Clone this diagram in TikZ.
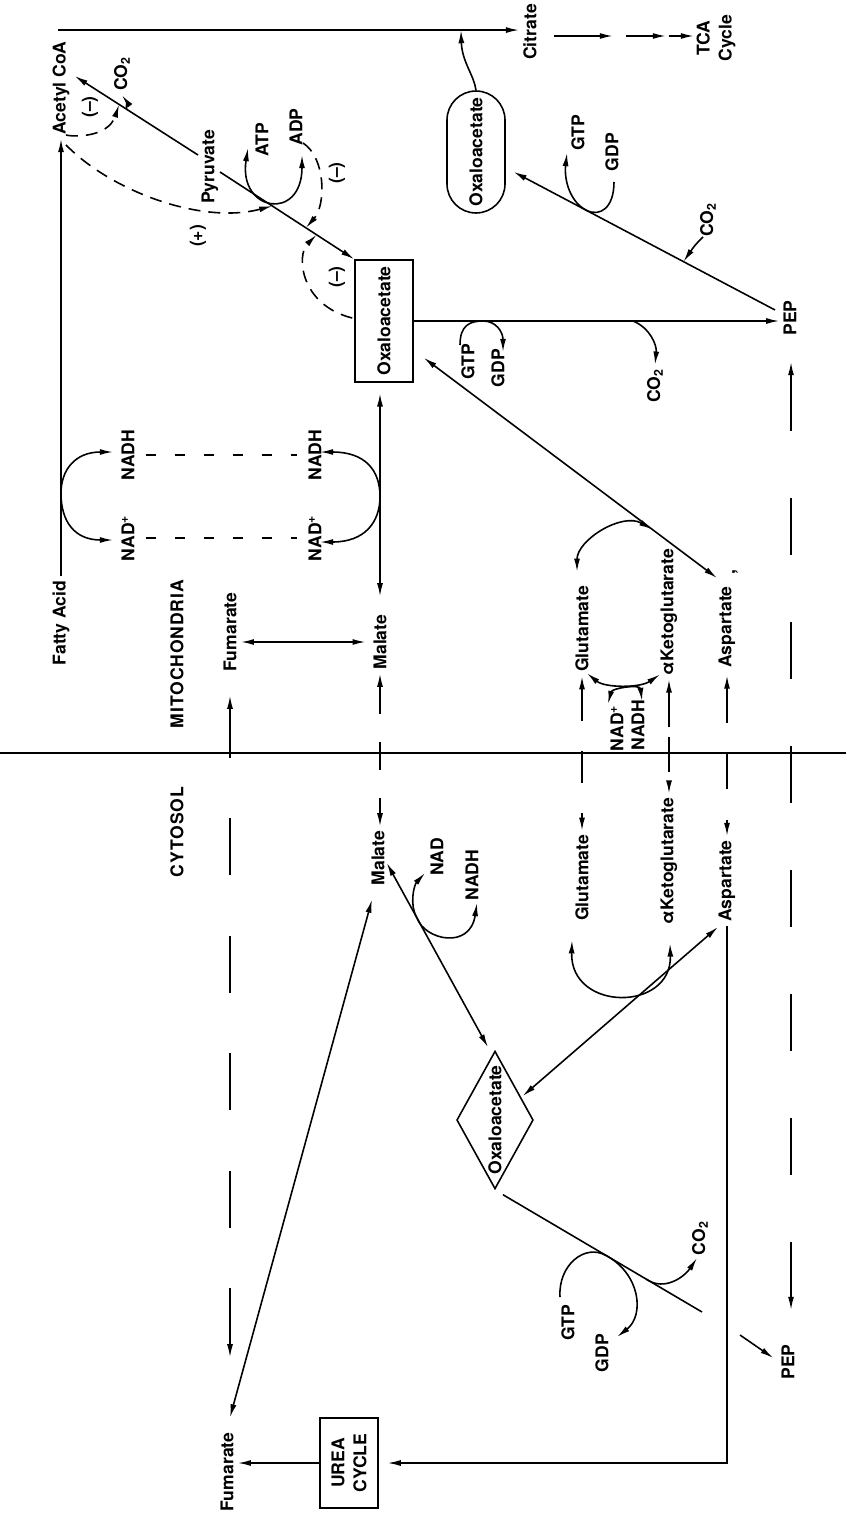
\documentclass[tikz,border=0pt]{standalone}
\usepackage{fontspec}
\setmainfont{TeX Gyre Heros}
\usetikzlibrary{arrows.meta, shapes.geometric}

\begin{document}
\begin{tikzpicture}[x=0.02cm, y=-0.02cm, line width=0.9pt,
      lbl/.style={rotate=90, inner sep=2pt, font=\bfseries\fontsize{10}{12.5}\selectfont},
      pool/.style={lbl, draw, minimum width=2.44cm, minimum height=1.16cm},
      arr/.style={-{Latex[length=7.5pt, width=3.4pt]}},
      arrb/.style={{Latex[length=7.5pt, width=3.4pt]}-{Latex[length=7.5pt, width=3.4pt]}},
      inh/.style={arr, dash pattern=on 0.24cm off 0.16cm},
      shuttle/.style={dash pattern=on 0.2cm off 0.38cm},
      xport/.style={arrb, dash pattern=on 1.14cm off 1.34cm}
    ]
      \useasboundingbox (0,0) rectangle (846,1514);

      % mitochondria
      \node[lbl] (acoa)    at (61,88)   {Acetyl CoA};
      \node[lbl] (fa)      at (61,623)  {Fatty Acid};
      \node[lbl] (citrate) at (530,32)  {Citrate};
      \node[lbl, align=center] (tca) at (716,38) {TCA\\Cycle};
      \node[lbl] (co2a)    at (122,74)  {CO\textsubscript{2}};
      \node[lbl] (inh1)    at (90,107)  {(--)};
      \node[lbl] (pyr)     at (210,167) {Pyruvate};
      \node[lbl] (act)     at (198,236) {(+)};
      \node[lbl] (atp)     at (262,140) {ATP};
      \node[lbl] (adp)     at (296,127) {ADP};
      \node[lbl] (inh2)    at (337,173) {(--)};
      \node[lbl] (inh3)    at (337,277) {(--)};
      \node[pool] (oaam)   at (384,321) {Oxaloacetate};
      \node[pool, rounded corners=0.58cm] (oaap) at (476,152) {Oxaloacetate};
      \node[lbl] (gtp1)    at (578,133) {GTP};
      \node[lbl] (gdp1)    at (612,152) {GDP};
      \node[lbl] (co2b)    at (708,220) {CO\textsubscript{2}};
      \node[lbl] (pepm)    at (790,318) {PEP};
      \node[lbl] (gtp2)    at (468,362) {GTP};
      \node[lbl] (gdp2)    at (498,368) {GDP};
      \node[lbl] (co2c)    at (655,386) {CO\textsubscript{2}};
      \node[lbl] (nadh1)   at (128,455) {NADH};
      \node[lbl] (nad1)    at (128,538) {NAD\textsuperscript{+}};
      \node[lbl] (nadh2)   at (315,455) {NADH};
      \node[lbl] (nad2)    at (315,538) {NAD\textsuperscript{+}};
      \node[lbl, font=\bfseries\fontsize{10}{12}\selectfont\addfontfeature{LetterSpace=5}] (mito) at (177,654) {MITOCHONDRIA};
      \node[lbl] (fumm)    at (230,632) {Fumarate};
      \node[lbl] (malm)    at (380,642) {Malate};
      \node[lbl] (glum)    at (582,629) {Glutamate};
      \node[lbl] (akgm)    at (669,612) {αKetoglutarate};
      \node[lbl] (aspm)    at (727,627) {Aspartate};
      \node[lbl] (spot)    at (735,572) {,};
      \node[lbl] (nad3)    at (617,728) {NAD\textsuperscript{+}};
      \node[lbl] (nadh3)   at (638,725) {NADH};

      % cytosol
      \node[lbl, font=\bfseries\fontsize{10}{12}\selectfont\addfontfeature{LetterSpace=5}] (cyto) at (177,832) {CYTOSOL};
      \node[lbl] (malc)    at (378,858) {Malate};
      \node[lbl] (nad4)    at (437,857) {NAD};
      \node[lbl] (nadh4)   at (472,875) {NADH};
      \node[lbl] (gluc)    at (582,878) {Glutamate};
      \node[lbl] (akgc)    at (669,861) {αKetoglutarate};
      \node[lbl] (aspc)    at (727,881) {Aspartate};
      \node[lbl, draw, diamond, shape aspect=1.8, inner sep=0.5pt] (oaac) at (495,1120) {Oxaloacetate};
      \node[lbl] (co2d)    at (700,1238) {CO\textsubscript{2}};
      \node[lbl] (gtp3)    at (568,1323) {GTP};
      \node[lbl] (gdp3)    at (602,1353) {GDP};
      \node[lbl] (pepc)    at (788,1362) {PEP};
      \node[lbl] (fumc)    at (227,1472) {Fumarate};
      \node[pool, align=center, minimum width=1.8cm] (urea) at (349,1463) {UREA\\CYCLE};

      % membrane
      \draw (0,753) -- (846,753);

      % acetyl CoA to citrate and TCA cycle
      \draw[arr] (fa) -- coordinate[pos=0.19] (bo) (acoa);
      \coordinate (ctop) at ([shift={(-3,-7)}]acoa.east);
      \draw[arr] (ctop) -- coordinate[pos=0.874] (cs) (ctop -| citrate.north);
      \draw[arr] ([shift={(13,4)}]citrate.south) -- ++(59,0);
      \draw[arr] ([shift={(85,4)}]citrate.south) -- ++(40,0);
      \draw[arr] ([shift={(128,4)}]citrate.south) -- ++(25,0);

      % pyruvate branch point
      \draw[arr] ([shift={(-12,-12)}]pyr.center) -- coordinate[pos=0.58] (pdh) coordinate[pos=0.64] (pdhin) ([shift={(1,-12)}]acoa.south);
      \draw[arr] ([shift={(10,5)}]pyr.center) -- coordinate[pos=0.34] (pc) coordinate[pos=0.39] (pcact) coordinate[pos=0.64] (pcin) coordinate[pos=0.72] (pcin2) (oaam.north east);
      \draw[arr] (pdh) .. controls ([shift={(0,-8)}]pdh) .. (co2a.west);
      \draw[inh] ([shift={(5,-4)}]acoa.west) .. controls (72,137) and (108,138) .. (pdhin);
      \draw[inh] ([shift={(5,6)}]acoa.west) .. controls (110,190) and (200,225) .. (pcact);
      \draw[arrb] ([shift={(-14,8)}]atp.center) .. controls (238,212) and (302,222) .. ([shift={(6,28)}]adp.center);
      \draw[inh] ([shift={(7,16)}]adp.center) .. controls (326,158) and (326,205) .. (pcin);
      \draw[inh] ([shift={(-2,-3)}]oaam.north) .. controls (300,305) and (296,255) .. (pcin2);

      % PEP carboxykinase
      \draw[arr] (oaam.south) -- coordinate[pos=0.19] (gk1) coordinate[pos=0.6] (dc1) (oaam.south -| pepm.north);
      \draw[arr] ([shift={(-8,-17)}]gtp2.center) .. controls (460,325) and (470,321) .. (gk1) .. controls (496,321) and (503,332) .. ([shift={(5,-16)}]gdp2.center);
      \draw[arr] (dc1) .. controls (650,328) and (657,345) .. (co2c.east);
      \draw[arr, shorten >=5pt] ([shift={(-15,-8)}]pepm.center) -- coordinate[pos=0.34] (cx2) coordinate[pos=0.70] (gk2) (oaap);
      \draw[arr] ([shift={(2,30)}]gdp1.center) .. controls (614,208) and (600,217) .. (gk2) .. controls (570,202) and (564,180) .. ([shift={(-11,20)}]gtp1.center);
      \draw[arr] ([shift={(-5,17)}]co2b.center) .. controls (695,245) .. (cx2);
      \draw[arr] (oaap.east) .. controls (474,75) and (462,62) .. (cs);

      % NADH shuttle
      \draw[arrb] ([shift={(-15,-3)}]nadh1.center) .. controls (75,452) and (61,470) .. (bo) .. controls (61,522) and (75,540) .. ([shift={(-15,2)}]nad1.center);
      \draw[arrb, shorten <=6pt, shorten >=8pt] (oaam.west -| malm.east) -- coordinate[pos=0.5] (md) (malm.east);
      \draw[arrb] ([shift={(5,-3)}]nadh2.center) .. controls (365,452) and (380,470) .. (md) .. controls (380,522) and (365,542) .. ([shift={(5,4)}]nad2.center);
      \draw[shuttle, shorten <=4pt, shorten >=4pt] (nadh1.south) -- (nadh2.north);
      \draw[shuttle, shorten <=4pt, shorten >=4pt] (nad1.south |- nad2.north) -- (nad2.north);
      \draw[arrb, shorten >=2pt] (fumm.south |- malm) -- (malm.north);

      % transamination (mitochondria)
      \draw[arrb] ([shift={(10,-25)}]oaam.south west) -- coordinate[pos=0.779] (ga) ([shift={(-10,-4)}]aspm.east);
      \draw[arrb] ([shift={(-5,-10)}]glum.east) .. controls (577,540) and (622,512) .. (ga);
      \draw[arrb] ([shift={(5,-3)}]glum.west) .. controls (605,688) and (640,688) .. ([shift={(-9,-5)}]akgm.west);
      \draw[arrb] ([shift={(-9,-24)}]nad3.center) .. controls (612,688) and (640,684) .. ([shift={(4,-24)}]nadh3.center);

      % carriers across the membrane
      \draw[xport, dash pattern=on 1.14cm off 1.21cm] ([shift={(3,-71)}]fumc.east) -- ([shift={(0,20)}]fumm.west);
      \draw[arrb, dash pattern=on 0.56cm off 0.56cm] (malm.west) -- (malm.west |- malc.east);
      \draw[arrb, dash pattern=on 0.64cm off 0.6cm] (glum.west) -- (gluc.east);
      \draw[arrb, dash pattern=on 0.7cm off 0.2cm] (akgm.west) -- (akgc.east);
      \draw[arrb, dash pattern=on 0.7cm off 0.62cm, shorten <=2pt] (aspm.west) -- (aspc.east);
      \draw[xport] ([shift={(1,44)}]pepm.center) -- ([shift={(3,-52)}]pepc.center);

      % cytosol
      \draw[arrb] ([shift={(-6,10)}]malc.west) -- ([shift={(3,-11)}]fumc.east);
      \draw[arrb] ([shift={(-2,5)}]malc.south) -- coordinate[pos=0.3] (mdh) ([shift={(-7,-3)}]oaac.east);
      \draw[arrb] ([shift={(-12,16)}]nad4.center) .. controls (414,885) and (409,905) .. (mdh) .. controls (425,940) and (470,950) .. ([shift={(5,28)}]nadh4.center);
      \draw[arrb, shorten >=1pt] ([shift={(-9,1)}]aspc.west) -- (oaac);
      \draw[arrb] ([shift={(1,15)}]akgc.west) .. controls (672,1012) and (570,1012) .. ([shift={(-10,15)}]gluc.west);
      \coordinate (gap1) at (702,1312);
      \coordinate (gap2) at (740,1335);
      \draw ([shift={(8,5)}]oaac.west) -- coordinate[pos=0.52] (gk3) coordinate[pos=0.72] (dc3) (gap1);
      \draw[arr] (gap2) -- ([shift={(-4,-4)}]pepc.north);
      \draw[arr] ([shift={(-8,-26)}]gtp3.center) .. controls (558,1265) and (585,1243) .. (gk3) .. controls (640,1274) and (645,1315) .. ([shift={(15,-16)}]gdp3.center);
      \draw[arr] (dc3) .. controls (665,1292) and (685,1276) .. ([shift={(-3,20)}]co2d.center);
      % urea cycle
      \draw[arr, shorten >=5pt] (aspc.west) |- (urea.south);
      \draw[arr] (urea.north) -- (urea.north -| fumc.south);
    \end{tikzpicture}
\end{document}
